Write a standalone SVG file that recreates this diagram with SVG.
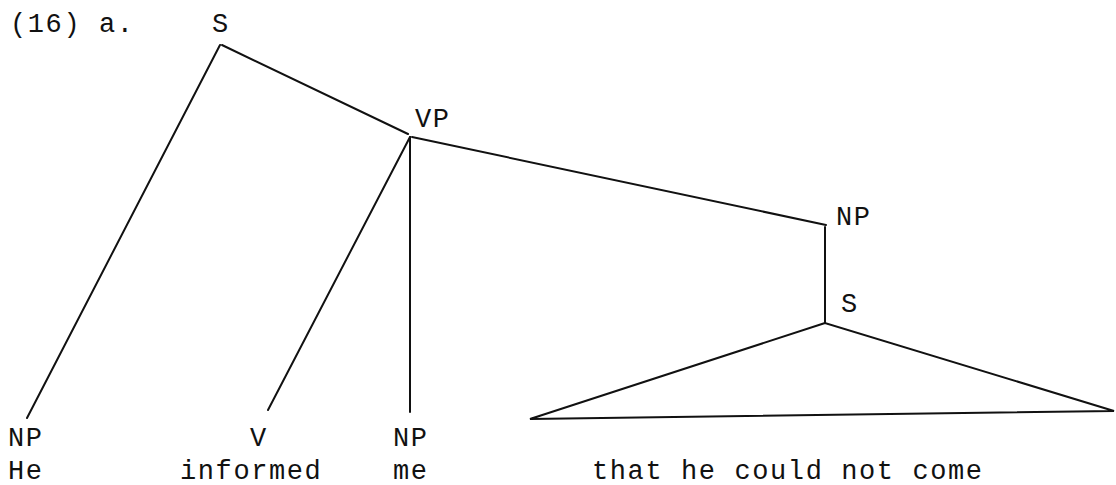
<svg xmlns="http://www.w3.org/2000/svg" width="1116" height="485" viewBox="0 0 1116 485">
<style>
text{font-family:"Liberation Mono","Courier New",monospace;font-size:27px;fill:#111;letter-spacing:1.6px}
.e{stroke:#111;stroke-width:2;fill:none;stroke-linecap:round}
</style>
<rect width="1116" height="485" fill="#fff"/>
<text x="10" y="32">(16) a.</text>
<g id="n-S"><text x="212" y="32">S</text></g>
<g id="n-VP"><text x="415" y="127">VP</text></g>
<g id="n-NP2"><text x="836" y="225">NP</text></g>
<g id="n-S2"><text x="841" y="312">S</text></g>
<g id="n-NP-he"><text x="8" y="446">NP</text><text x="8" y="479">He</text></g>
<g id="n-V"><text x="250" y="446">V</text><text x="180" y="479">informed</text></g>
<g id="n-NP-me"><text x="393" y="446">NP</text><text x="393" y="479">me</text></g>
<g id="n-clause"><text x="592" y="479">that he could not come</text></g>
<g id="edges">
<line class="e" x1="220" y1="45" x2="27" y2="418"/>
<line class="e" x1="222" y1="45" x2="408" y2="134"/>
<line class="e" x1="410" y1="137" x2="268" y2="410"/>
<line class="e" x1="410" y1="137" x2="410" y2="412"/>
<line class="e" x1="412" y1="137" x2="826" y2="225"/>
<line class="e" x1="825" y1="227" x2="825" y2="323"/>
<polygon class="e" points="825,323 530,419 1114,411"/>
</g>
</svg>
